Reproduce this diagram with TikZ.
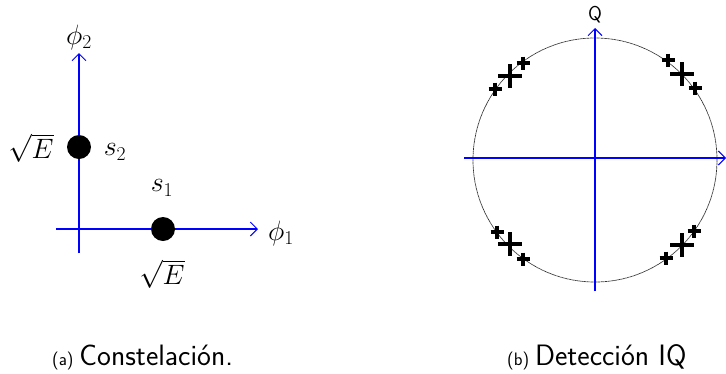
\RequirePackage{fix-cm}
\documentclass[tikz,border=0pt]{standalone}
\usetikzlibrary{arrows.meta}
\begin{document}
\begin{tikzpicture}[x=1pt,y=-1pt,
  axis/.style={draw=blue, line width=1.2pt},
  axarrow/.style={axis, -{Straight Barb[length=7pt,width=14pt,line width=1pt]}},
  symdot/.style={circle, fill=black, inner sep=0pt, minimum size=24pt},
  mlabel/.style={inner sep=0pt, font=\fontsize{28}{32}\selectfont},
  caplabel/.style={inner sep=0pt, anchor=base west, font=\sffamily\fontsize{29.5}{34}\selectfont},
  circ/.style={draw=black!80, line width=0.7pt, dash pattern=on 1pt off 0.4pt},
  bigx/.pic={\draw[line width=4pt] (-12,0)--(12,0) (0,-12)--(0,12);},
  smallx/.pic={\draw[line width=3.3pt] (-6.5,0)--(6.5,0) (0,-6.5)--(0,6.5);}
]
\useasboundingbox (0,0) rectangle (726,373);
% ---------- (a) constellation ----------
\coordinate (vb) at (79,253);
\coordinate (vt) at (79,53);
\coordinate (hl) at (56,229);
\coordinate (hr) at (258,229);
\draw[axarrow] (vb) -- (vt);
\draw[axarrow] (hl) -- (hr);
\node[symdot] (s2) at (79,147) {};
\node[symdot] (s1) at (163,229) {};
\node[mlabel] (phi2) at (79,37) {$\phi_2$};
\node[mlabel] (phi1) at (281,233) {$\phi_1$};
\node[mlabel] (sqE2) at (31,148) {$\sqrt{E}$};
\node[mlabel] (lab2) at (115,152) {$s_2$};
\node[mlabel] (lab1) at (162,188) {$s_1$};
\node[mlabel] (sqE1) at (162,274) {$\sqrt{E}$};
% ---------- (b) IQ detection ----------
\coordinate (c) at (595,160);
\draw[circ] (c) circle[radius=122];
\coordinate (qb) at (595,291);
\coordinate (qt) at (595,28);
\coordinate (il) at (464,158);
\coordinate (ir) at (726,158);
\draw[axarrow] (qb) -- (qt);
\draw[axarrow] (il) -- (ir);
\node[inner sep=0pt, font=\sffamily\fontsize{20}{24}\selectfont] (Q) at (595,15) {Q};
% clusters
\pic at (510,76) {bigx};
\pic at (523,63) {smallx};
\pic at (495,89) {smallx};
\pic at (682,74) {bigx};
\pic at (668,60) {smallx};
\pic at (695,88) {smallx};
\pic at (510,244) {bigx};
\pic at (497,232) {smallx};
\pic at (523,259) {smallx};
\pic at (682,245) {bigx};
\pic at (694,231) {smallx};
\pic at (666,258) {smallx};
% ---------- captions ----------
\node[caplabel] (capa) at (52,365) {{\fontsize{18}{22}\selectfont (a)}\hspace{6pt}Constelación.};
\node[caplabel] (capb) at (507,365) {{\fontsize{18}{22}\selectfont (b)}\hspace{6pt}Detección IQ};
\end{tikzpicture}
\end{document}
